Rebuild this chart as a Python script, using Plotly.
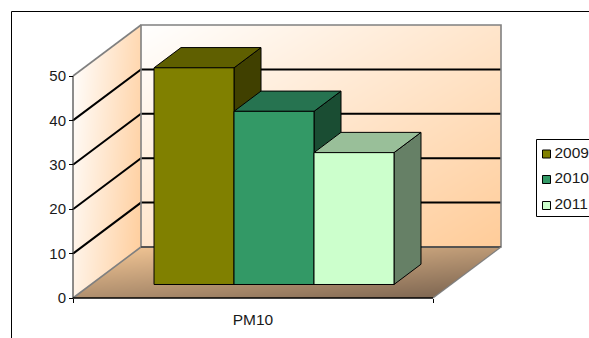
import numpy as np
import plotly.graph_objects as go

# Chart values
categories = ["PM10"]
years = ["2009", "2010", "2011"]
pm10_values = [48.8, 39.0, 29.7]
value_ticks = [0, 10, 20, 30, 40, 50]

# Face colours for each series: front, top, side
front_colors = ["#808000", "#339966", "#CCFFCC"]
top_colors = ["#5F5F00", "#267350", "#99BF99"]
side_colors = ["#404000", "#1A4D33", "#668066"]

W, H = 589, 338
PX_X = 360.0          # pixels per category-axis unit
PX_V = 4.44           # pixels per value unit
X0, Y0 = 73.0, 298.0  # page position of the axis origin
DEPTH_X = 68 / PX_X
DEPTH_V = 51 / PX_V
V_MAX = 50
BAR_LEFT, BAR_W = 0.175, 0.2222
BAR_D0, BAR_D1 = 0.265, 0.662
FONT = "Liberation Sans"
TEXT = "#1a1a1a"


def proj(x, v, d=0.0):
    """Oblique projection of (category position, value, depth) on the plane."""
    return x + d * DEPTH_X, v + d * DEPTH_V


def page_x(p):
    return (p - X0) / PX_X


def page_y(p):
    return (Y0 - p) / PX_V


fig = go.Figure()

# Pixel grid shared by the shaded walls and the floor
gx = page_x(np.arange(60, 515) + 0.5)
gy = page_y(np.arange(15, 305) + 0.5)
XX, YY = np.meshgrid(gx, gy)
PX = XX * PX_X + X0
PY = Y0 - YY * PX_V


def shade(z, stops):
    fig.add_trace(go.Heatmap(x=gx, y=gy, z=z, zmin=0, zmax=1, colorscale=stops,
                             showscale=False, hoverinfo="skip", zsmooth=False))


wall_stops = [[0, "#FFFFFF"], [1, "#FFCC99"]]

# Back wall
t = ((PX - 141) / 360 + (PY - 24) / 223) / 2
inside = (XX >= DEPTH_X) & (XX <= 1 + DEPTH_X) & (YY >= DEPTH_V) & (YY <= V_MAX + DEPTH_V)
shade(np.where(inside, t, np.nan), wall_stops)

# Left wall
d = XX / DEPTH_X
v = YY - d * DEPTH_V
t = 0.75 * (PX - 73) / 68 + 0.25 * (PY - 24) / 274
inside = (d >= 0) & (d <= 1) & (v >= 0) & (v <= V_MAX)
shade(np.where(inside, t, np.nan), wall_stops)

# Floor
d = YY / DEPTH_V
u = XX - d * DEPTH_X
t = 0.55 * (1 - d) + 0.45 * u
inside = (d >= 0) & (d <= 1) & (u >= 0) & (u <= 1)
shade(np.where(inside, t, np.nan), [[0, "#EEC292"], [1, "#7F6752"]])


def polyline(points, color, width, fill=None):
    xs, ys = zip(*points)
    fig.add_trace(go.Scatter(
        x=xs, y=ys, mode="lines", line=dict(color=color, width=width),
        fill="toself" if fill else None, fillcolor=fill,
        hoverinfo="skip", showlegend=False, cliponaxis=False))


# Gridlines across the left and back walls
for tick in value_ticks[1:-1]:
    polyline([proj(0, tick, 0), proj(0, tick, 1), proj(1, tick, 1)], "#000000", 2)

# Wall and floor outlines
GREY = "#808080"
polyline([proj(0, 0, 0), proj(0, 0, 1), proj(0, V_MAX, 1), proj(1, V_MAX, 1),
          proj(1, 0, 1), proj(0, 0, 1)], GREY, 1.6)
polyline([proj(0, 0, 1), proj(1, 0, 1)], "#404040", 1.6)
polyline([proj(0, V_MAX, 0), proj(0, V_MAX, 1)], GREY, 1.6)
polyline([proj(1, 0, 0), proj(1, 0, 1)], GREY, 1.2)
polyline([proj(0, 0, 0), proj(0, V_MAX, 0)], "#404040", 1.2)
polyline([proj(0, 0, 0), proj(1, 0, 0)], "#000000", 1.4)

# Bars stand side by side; each one overlaps the side face of its left neighbour
for i, value in enumerate(pm10_values):
    a = BAR_LEFT + i * BAR_W
    b = a + BAR_W
    polyline([proj(b, 0, BAR_D0), proj(b, 0, BAR_D1), proj(b, value, BAR_D1),
              proj(b, value, BAR_D0), proj(b, 0, BAR_D0)], "#000000", 1, side_colors[i])
    polyline([proj(a, value, BAR_D0), proj(a, value, BAR_D1), proj(b, value, BAR_D1),
              proj(b, value, BAR_D0), proj(a, value, BAR_D0)], "#000000", 1, top_colors[i])
    polyline([proj(a, 0, BAR_D0), proj(b, 0, BAR_D0), proj(b, value, BAR_D0),
              proj(a, value, BAR_D0), proj(a, 0, BAR_D0)], "#000000", 1, front_colors[i])

# Legend box, running past the page edge on the right
polyline([(page_x(536.5), page_y(139.5)), (page_x(600), page_y(139.5)),
          (page_x(600), page_y(216.5)), (page_x(536.5), page_y(216.5)),
          (page_x(536.5), page_y(139.5))], "#000000", 1, "#FFFFFF")
legend_rows = [154, 179.5, 205.5]
fig.add_trace(go.Scatter(
    x=[page_x(546.5)] * 3, y=[page_y(p) for p in legend_rows],
    mode="markers",
    marker=dict(symbol="square", size=8, color=front_colors,
                line=dict(color="#000000", width=1)),
    hoverinfo="skip", showlegend=False, cliponaxis=False))
fig.add_trace(go.Scatter(
    x=[page_x(554.5)] * 3, y=[page_y(p) for p in legend_rows],
    mode="text", text=years, textposition="middle right",
    textfont=dict(family=FONT, size=15.5, color=TEXT),
    hoverinfo="skip", showlegend=False, cliponaxis=False))

fig.update_layout(
    width=W, height=H, autosize=False,
    margin=dict(l=0, r=0, t=0, b=0, pad=0),
    paper_bgcolor="#FFFFFF", plot_bgcolor="#FFFFFF",
    showlegend=False,
    xaxis=dict(
        range=[page_x(0), page_x(W)], showgrid=False, zeroline=False, showline=False,
        anchor="free", position=(H - Y0) / H,
        tickmode="array", tickvals=[0.5], ticktext=categories,
        ticks="", ticklabelstandoff=10,
        tickfont=dict(family=FONT, size=15.5, color=TEXT),
        minor=dict(tickmode="array", tickvals=[0, 1], ticks="outside",
                   ticklen=4, tickcolor="#000000", tickwidth=1, showgrid=False),
    ),
    yaxis=dict(
        range=[page_y(H), page_y(0)], showgrid=False, zeroline=False, showline=False,
        anchor="free", position=X0 / W,
        tickmode="array", tickvals=value_ticks,
        ticks="outside", ticklen=4, tickcolor="#000000", tickwidth=1,
        tickfont=dict(family=FONT, size=15, color=TEXT),
    ),
    shapes=[
        dict(type="line", xref="paper", yref="paper", x0=11.5 / W, x1=1,
             y0=1 - 11.5 / H, y1=1 - 11.5 / H, line=dict(color="#000000", width=1)),
        dict(type="line", xref="paper", yref="paper", x0=11.5 / W, x1=11.5 / W,
             y0=0, y1=1 - 11.5 / H, line=dict(color="#000000", width=1)),
    ],
)

fig.write_html("out.html", config=dict(displayModeBar=False))
